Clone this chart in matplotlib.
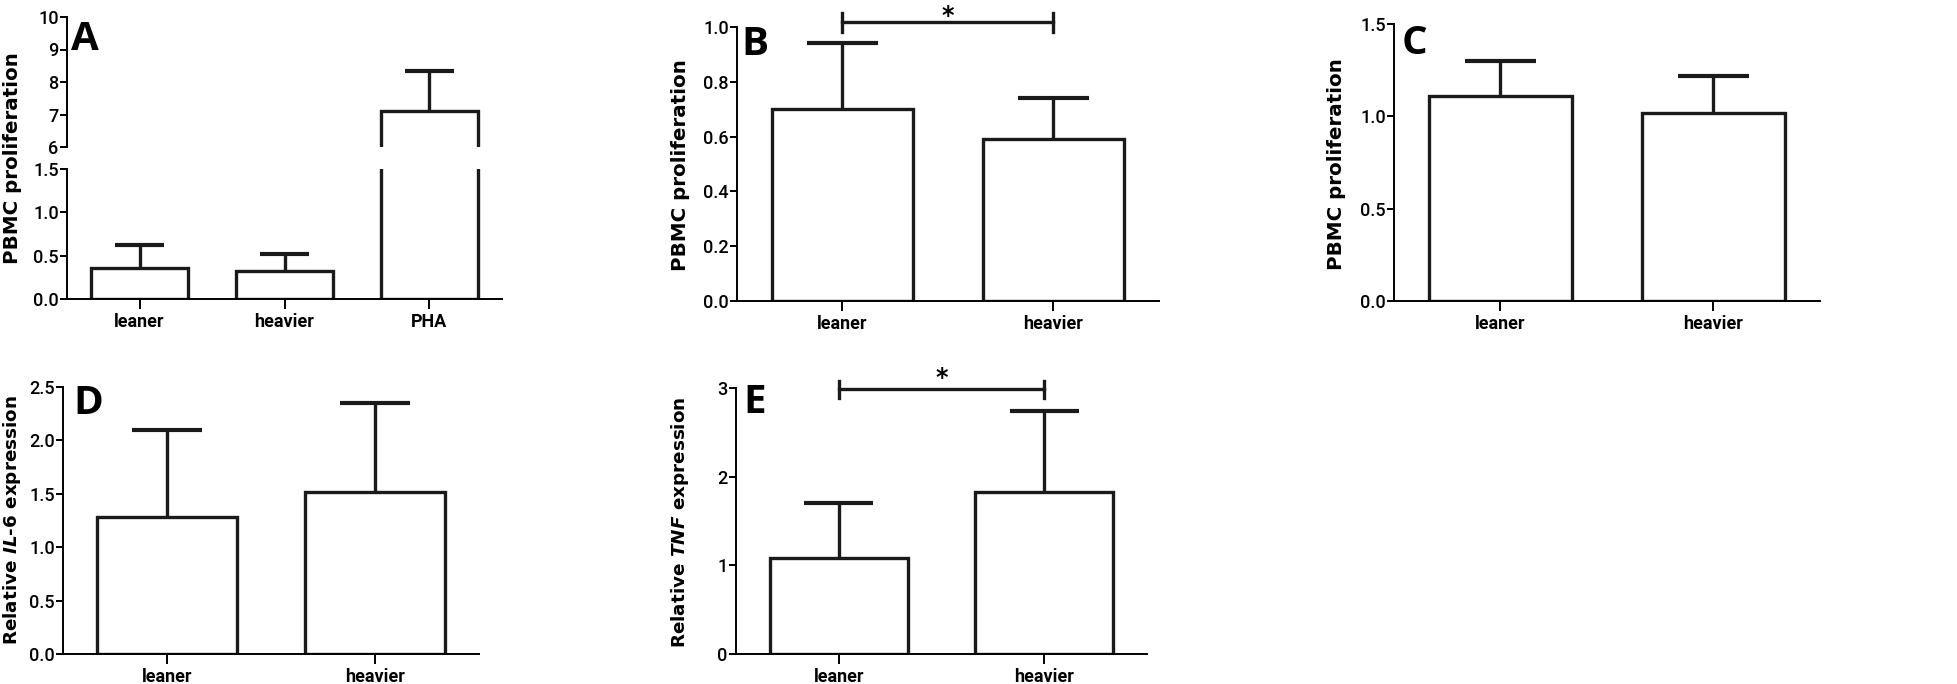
import matplotlib
matplotlib.use("Agg")
import matplotlib.pyplot as plt

# ---------------- data ----------------
cats_A = ["leaner", "heavier", "PHA"]
A_means = [0.36, 0.32, 7.10]
A_err = [0.26, 0.20, 1.24]

cats_2 = ["leaner", "heavier"]
B_means = [0.70, 0.59]
B_err = [0.24, 0.15]

C_means = [1.11, 1.02]
C_err = [0.19, 0.20]

D_means = [1.28, 1.52]
D_err = [0.82, 0.83]

E_means = [1.08, 1.83]
E_err = [0.62, 0.91]

A_low_ticks = [0.0, 0.5, 1.0, 1.5]
A_low_labels = ["0.0", "0.5", "1.0", "1.5"]
A_up_ticks = [6, 7, 8, 9, 10]
A_up_labels = ["6", "7", "8", "9", "10"]
B_ticks = [0.0, 0.2, 0.4, 0.6, 0.8, 1.0]
B_labels = ["0.0", "0.2", "0.4", "0.6", "0.8", "1.0"]
C_ticks = [0.0, 0.5, 1.0, 1.5]
C_labels = ["0.0", "0.5", "1.0", "1.5"]
D_ticks = [0.0, 0.5, 1.0, 1.5, 2.0, 2.5]
D_labels = ["0.0", "0.5", "1.0", "1.5", "2.0", "2.5"]
E_ticks = [0, 1, 2, 3]
E_labels = ["0", "1", "2", "3"]

# ---------------- style ----------------
plt.rcParams["mathtext.fontset"] = "custom"
plt.rcParams["mathtext.it"] = "DejaVu Sans:italic:bold"
plt.rcParams["mathtext.rm"] = "DejaVu Sans:bold"

NARROW = ["Roboto", "DejaVu Sans"]
LW_BAR = 2.4
LW_AX = 1.4
BAR_W = 0.67
INK = "#1a1a1a"

fig = plt.figure(figsize=(19.58, 6.84), dpi=100)
W, H = 1958.0, 684.0


def add_ax(x0, x1, ytop, ybot):
    return fig.add_axes([x0 / W, 1 - ybot / H, (x1 - x0) / W, (ybot - ytop) / H])


def style(ax, yticks, ylabels, ylim, n, cats, bottom=True):
    ax.set_xlim(-0.5, n - 0.5)
    ax.set_ylim(*ylim)
    for s in ["top", "right"]:
        ax.spines[s].set_visible(False)
    ax.spines["left"].set_linewidth(LW_AX)
    ax.spines["bottom"].set_linewidth(LW_AX)
    ax.set_yticks(yticks)
    ax.set_yticklabels(ylabels, fontfamily=NARROW, fontsize=13, fontweight="medium")
    ax.tick_params(axis="y", direction="out", length=5, width=LW_AX, pad=1)
    if bottom:
        ax.set_xticks(range(n))
        ax.set_xticklabels(cats, fontfamily=NARROW, fontsize=13, fontweight="bold")
        ax.tick_params(axis="x", direction="out", length=7, width=LW_AX, pad=3)
    else:
        ax.spines["bottom"].set_visible(False)
        ax.set_xticks([])


def draw_bars(ax, means, errs):
    xs = list(range(len(means)))
    ax.bar(xs, means, width=BAR_W, facecolor="white", edgecolor=INK,
           linewidth=LW_BAR, zorder=2)
    tops = [m + e for m, e in zip(means, errs)]
    ax.vlines(xs, means, tops, color=INK, linewidth=LW_BAR, zorder=3)
    ax.hlines(tops, [x - BAR_W / 4 for x in xs], [x + BAR_W / 4 for x in xs],
              color=INK, linewidth=LW_BAR + 0.6, zorder=3)


def letter(x, y, s):
    fig.text(x / W, 1 - y / H, s, fontsize=29, fontweight="bold",
             fontfamily=["Open Sans", "DejaVu Sans"], va="top", ha="left")


def ylab(x, y, s, size):
    fig.text(x / W, 1 - y / H, s, rotation=90, fontsize=size, fontweight="bold",
             va="center", ha="center")


def sig(ax, x0, x1, y, ylo, yhi, ystar):
    ax.plot([x0, x1], [y, y], color=INK, lw=LW_BAR, clip_on=False)
    ax.plot([x0, x0], [ylo, yhi], color=INK, lw=LW_BAR, clip_on=False)
    ax.plot([x1, x1], [ylo, yhi], color=INK, lw=LW_BAR, clip_on=False)
    ax.text((x0 + x1) / 2, ystar, "*", ha="center", va="center", fontsize=17,
            fontweight="bold", clip_on=False)


# ---------------- Panel A (broken axis) ----------------
axA_lo = add_ax(67, 502, 169, 299)
axA_up = add_ax(67, 502, 17, 147)
draw_bars(axA_lo, A_means, A_err)
draw_bars(axA_up, A_means, A_err)
style(axA_lo, A_low_ticks, A_low_labels, (0, 1.5), 3, cats_A)
style(axA_up, A_up_ticks, A_up_labels, (6, 10), 3, cats_A, bottom=False)
letter(71, 20, "A")
ylab(13, 158, "PBMC proliferation", 14.3)

# ---------------- Panel B ----------------
axB = add_ax(737, 1159, 27, 301)
draw_bars(axB, B_means, B_err)
style(axB, B_ticks, B_labels, (0, 1.0), 2, cats_2)
sig(axB, 0, 1, 1.018, 0.982, 1.051, 1.040)
letter(741, 25, "B")
ylab(681, 165, "PBMC proliferation", 14.3)

# ---------------- Panel C ----------------
axC = add_ax(1394, 1820, 24, 301)
draw_bars(axC, C_means, C_err)
style(axC, C_ticks, C_labels, (0, 1.5), 2, cats_2)
letter(1402, 24, "C")
ylab(1337, 164, "PBMC proliferation", 14.3)

# ---------------- Panel D ----------------
axD = add_ax(63, 479, 387, 654)
draw_bars(axD, D_means, D_err)
style(axD, D_ticks, D_labels, (0, 2.5), 2, cats_2)
letter(73, 384, "D")
ylab(12, 520, r"Relative $\mathit{IL}$-$\mathit{6}$ expression", 13.2)

# ---------------- Panel E ----------------
axE = add_ax(736, 1147, 388, 654)
draw_bars(axE, E_means, E_err)
style(axE, E_ticks, E_labels, (0, 3), 2, cats_2)
sig(axE, 0, 1, 2.99, 2.89, 3.08, 3.11)
letter(743, 383, "E")
ylab(680, 522, r"Relative $\mathit{TNF}$ expression", 13.2)

fig.savefig("out.png", dpi=100, facecolor="white")
